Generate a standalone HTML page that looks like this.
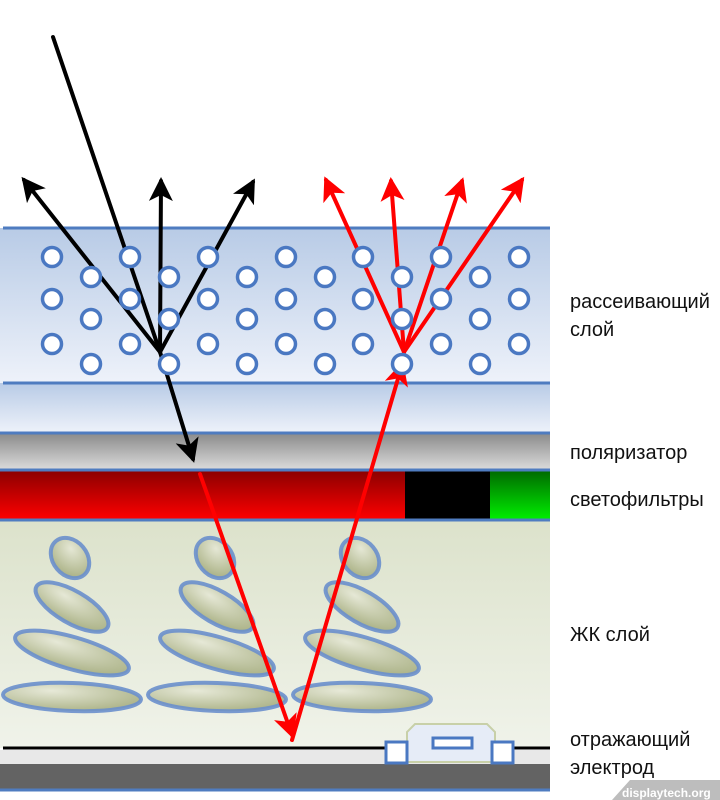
<!DOCTYPE html>
<html><head><meta charset="utf-8"><style>
html,body{margin:0;padding:0;background:#fff;width:720px;height:800px;overflow:hidden}
text{font-family:"Liberation Sans",sans-serif;font-size:20px;fill:#111}
</style></head><body>
<svg width="720" height="800" viewBox="0 0 720 800" xmlns="http://www.w3.org/2000/svg">
<defs>
<linearGradient id="sc" x1="0" y1="0" x2="0" y2="1"><stop offset="0" stop-color="#b8cbe6"/><stop offset="1" stop-color="#eef2fa"/></linearGradient>
<linearGradient id="gl" x1="0" y1="0" x2="0" y2="1"><stop offset="0" stop-color="#b8cbe6"/><stop offset="1" stop-color="#eef2fa"/></linearGradient>
<linearGradient id="gr" x1="0" y1="0" x2="0" y2="1"><stop offset="0" stop-color="#8a8a8a"/><stop offset="1" stop-color="#dcdcdc"/></linearGradient>
<linearGradient id="rd" x1="0" y1="0" x2="0" y2="1"><stop offset="0" stop-color="#8a0000"/><stop offset="1" stop-color="#ff0000"/></linearGradient>
<linearGradient id="gn" x1="0" y1="0" x2="0" y2="1"><stop offset="0" stop-color="#006800"/><stop offset="1" stop-color="#00f000"/></linearGradient>
<linearGradient id="lc" x1="0" y1="0" x2="0" y2="1"><stop offset="0" stop-color="#dce2cb"/><stop offset="1" stop-color="#f0f3ea"/></linearGradient>
<radialGradient id="el" cx="0.35" cy="0.3" r="0.8"><stop offset="0" stop-color="#e6e8d6"/><stop offset="1" stop-color="#9ba370"/></radialGradient>
<marker id="ab" markerWidth="6" markerHeight="6" refX="5" refY="3" orient="auto" markerUnits="strokeWidth"><path d="M0,0 L6,3 L0,6 L1.5,3 Z" fill="#000"/></marker>
<marker id="ar" markerWidth="6" markerHeight="6" refX="5" refY="3" orient="auto" markerUnits="strokeWidth"><path d="M0,0 L6,3 L0,6 L1.5,3 Z" fill="#f00"/></marker>
</defs>
<rect x="0" y="228" width="550" height="155" fill="url(#sc)"/>
<rect x="0" y="383" width="550" height="50" fill="url(#gl)"/>
<rect x="0" y="433" width="550" height="37" fill="url(#gr)"/>
<rect x="0" y="470" width="405" height="50" fill="url(#rd)"/>
<rect x="405" y="470" width="85" height="50" fill="#000"/>
<rect x="490" y="470" width="60" height="50" fill="url(#gn)"/>
<rect x="0" y="520" width="550" height="228" fill="url(#lc)"/>
<rect x="0" y="750" width="550" height="14" fill="#e8e8e8"/>
<rect x="0" y="764" width="550" height="25" fill="#636363"/>
<g stroke="#4f7cc0" stroke-width="3">
<line x1="3" y1="228" x2="550" y2="228"/><line x1="3" y1="383" x2="550" y2="383"/>
<line x1="0" y1="433" x2="550" y2="433"/><line x1="0" y1="470" x2="550" y2="470"/>
<line x1="0" y1="520" x2="550" y2="520"/><line x1="0" y1="790" x2="550" y2="790"/>
</g>
<g fill="url(#el)" fill-opacity="0.85" stroke="#6a8fcc" stroke-opacity="0.9" stroke-width="4">
<g id="col">
<ellipse cx="0" cy="0" rx="22" ry="17" transform="translate(70,558) rotate(50)"/>
<ellipse cx="0" cy="0" rx="41" ry="16" transform="translate(72,607) rotate(30)"/>
<ellipse cx="0" cy="0" rx="59" ry="16" transform="translate(72,653) rotate(16)"/>
<ellipse cx="0" cy="0" rx="69" ry="14" transform="translate(72,697) rotate(2)"/>
</g>
<use href="#col" x="145"/>
<use href="#col" x="290"/>
</g>
<line x1="3" y1="748" x2="550" y2="748" stroke="#000" stroke-width="3"/>
<polygon points="407,762 407,732 415,724 487,724 495,732 495,762" fill="#e6ecf7" stroke="#c8d0a8" stroke-width="2"/>
<rect x="433" y="738" width="39" height="10" fill="#fff" stroke="#4a78c2" stroke-width="3"/>
<rect x="386" y="742" width="21" height="21" fill="#fff" stroke="#4a78c2" stroke-width="3"/>
<rect x="492" y="742" width="21" height="21" fill="#fff" stroke="#4a78c2" stroke-width="3"/>
<g stroke="#000" stroke-width="4" fill="none" stroke-linecap="round">
<line x1="53" y1="37" x2="160" y2="352"/>
<line x1="160" y1="352" x2="24" y2="180" marker-end="url(#ab)"/>
<line x1="160" y1="352" x2="161" y2="181" marker-end="url(#ab)"/>
<line x1="160" y1="352" x2="253" y2="182" marker-end="url(#ab)"/>
<line x1="160" y1="352" x2="193" y2="459" marker-end="url(#ab)"/>
</g>
<g stroke="#f00" stroke-width="4" fill="none" stroke-linecap="round">
<line x1="200" y1="474" x2="292" y2="735" marker-end="url(#ar)"/>
<line x1="292" y1="740" x2="402" y2="365" marker-end="url(#ar)"/>
<line x1="404" y1="352" x2="326" y2="180" marker-end="url(#ar)"/>
<line x1="404" y1="352" x2="391" y2="181" marker-end="url(#ar)"/>
<line x1="404" y1="352" x2="462" y2="181" marker-end="url(#ar)"/>
<line x1="404" y1="352" x2="522" y2="180" marker-end="url(#ar)"/>
</g>
<g fill="#fff" stroke="#4a78c2" stroke-width="3.5">
<circle cx="52" cy="257" r="9.5"/><circle cx="52" cy="299" r="9.5"/><circle cx="52" cy="344" r="9.5"/>
<circle cx="91" cy="277" r="9.5"/><circle cx="91" cy="319" r="9.5"/><circle cx="91" cy="364" r="9.5"/>
<circle cx="130" cy="257" r="9.5"/><circle cx="130" cy="299" r="9.5"/><circle cx="130" cy="344" r="9.5"/>
<circle cx="169" cy="277" r="9.5"/><circle cx="169" cy="319" r="9.5"/><circle cx="169" cy="364" r="9.5"/>
<circle cx="208" cy="257" r="9.5"/><circle cx="208" cy="299" r="9.5"/><circle cx="208" cy="344" r="9.5"/>
<circle cx="247" cy="277" r="9.5"/><circle cx="247" cy="319" r="9.5"/><circle cx="247" cy="364" r="9.5"/>
<circle cx="286" cy="257" r="9.5"/><circle cx="286" cy="299" r="9.5"/><circle cx="286" cy="344" r="9.5"/>
<circle cx="325" cy="277" r="9.5"/><circle cx="325" cy="319" r="9.5"/><circle cx="325" cy="364" r="9.5"/>
<circle cx="363" cy="257" r="9.5"/><circle cx="363" cy="299" r="9.5"/><circle cx="363" cy="344" r="9.5"/>
<circle cx="402" cy="277" r="9.5"/><circle cx="402" cy="319" r="9.5"/><circle cx="402" cy="364" r="9.5"/>
<circle cx="441" cy="257" r="9.5"/><circle cx="441" cy="299" r="9.5"/><circle cx="441" cy="344" r="9.5"/>
<circle cx="480" cy="277" r="9.5"/><circle cx="480" cy="319" r="9.5"/><circle cx="480" cy="364" r="9.5"/>
<circle cx="519" cy="257" r="9.5"/><circle cx="519" cy="299" r="9.5"/><circle cx="519" cy="344" r="9.5"/>
</g>
<text x="570" y="308">рассеивающий</text>
<text x="570" y="336">слой</text>
<text x="570" y="459">поляризатор</text>
<text x="570" y="506">светофильтры</text>
<text x="570" y="641">ЖК слой</text>
<text x="570" y="746">отражающий</text>
<text x="570" y="774">электрод</text>
<polygon points="612,800 630,780 720,780 720,800" fill="#bdbdbd"/>
<text x="622" y="797" style="font-size:12px;font-weight:bold;fill:#fff">displaytech.org</text>
</svg>
</body></html>
